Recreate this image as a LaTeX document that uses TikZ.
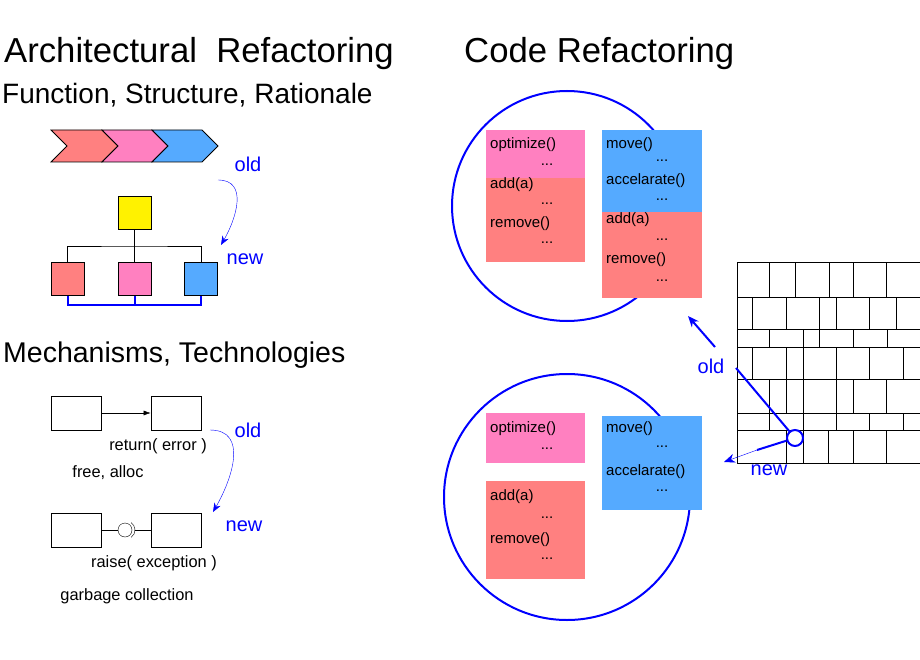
\documentclass[tikz,border=0pt]{standalone}
\usepackage{fontspec}
\setmainfont{Liberation Sans}
\usetikzlibrary{arrows.meta}
\definecolor{cred}{HTML}{FF8080}
\definecolor{cpink}{HTML}{FF80C0}
\definecolor{cblue}{HTML}{55AAFF}
\definecolor{bl}{HTML}{0000FF}
\begin{document}
\begin{tikzpicture}[x=1pt,y=-1pt,
  box/.style={draw,line width=0.8pt},
  t/.style={anchor=west,inner sep=0pt,font=\fontsize{15}{15}\selectfont},
  dots/.style={inner sep=0pt,font=\fontsize{15}{15}\selectfont},
  lab/.style={text=bl,inner sep=0pt,font=\fontsize{20}{20}\selectfont},
  sm/.style={inner sep=0pt,font=\fontsize{16.4}{16.4}\selectfont},
  barr/.style={draw=bl,-{Stealth[length=9pt,width=7pt]}}]
\useasboundingbox (0,0) rectangle (920,660);
% titles
\node[anchor=west,inner sep=0pt,font=\fontsize{34.7}{34.7}\selectfont] (t1) at (4,54) {Architectural\ \ Refactoring};
\node[anchor=west,inner sep=0pt,font=\fontsize{28}{28}\selectfont] (t2) at (2,95) {Function, Structure, Rationale};
\node[anchor=west,inner sep=0pt,font=\fontsize{28.5}{28.5}\selectfont] (t3) at (3,355) {Mechanisms, Technologies};
\node[anchor=west,inner sep=0pt,font=\fontsize{34.7}{34.7}\selectfont] (t4) at (464,54) {Code Refactoring};
% chevrons
\draw[box,fill=cred] (51,130)--(102,130)--(118,146)--(102,162)--(51,162)--(67,146)--cycle;
\draw[box,fill=cpink] (102,130)--(152,130)--(168,146)--(152,162)--(102,162)--(118,146)--cycle;
\draw[box,fill=cblue] (152,130)--(202,130)--(218,146)--(202,162)--(152,162)--(168,146)--cycle;
% tree
\node[box,fill=yellow,minimum size=33pt,inner sep=0pt] (y) at (134.5,213) {};
\node[box,fill=cred,minimum size=33pt,inner sep=0pt] (a1) at (67.5,279) {};
\node[box,fill=cpink,minimum size=33pt,inner sep=0pt] (a2) at (134.5,279) {};
\node[box,fill=cblue,minimum size=33pt,inner sep=0pt] (a3) at (201,279) {};
\draw (y.south)--(a2.north);
\draw (a1.north)|-(134.5,246)-|(a3.north);
\draw[draw=bl,line width=2pt] (a1.south)--(67.5,305)-|(a3.south);
\draw[draw=bl,line width=2pt] (a2.south)--(134.5,305);
\node[lab] (o1) at (248,164) {old};
\node[lab] (n1) at (245,259) {new};
\draw[barr] (218,180) to[out=0,in=60,looseness=1.2] (221,245);
% mechanisms
\node[box,minimum width=50pt,minimum height=34pt,inner sep=0pt] (m1) at (76,413) {};
\node[box,minimum width=50pt,minimum height=34pt,inner sep=0pt] (m2) at (176,413) {};
\draw[-{Latex[length=7pt,width=5pt]}] (m1)--(m2);
\node[sm] at (158,446) {return( error )};
\node[sm] at (108,473) {free, alloc};
\node[box,minimum width=50pt,minimum height=34pt,inner sep=0pt] (m3) at (76,530) {};
\node[box,minimum width=50pt,minimum height=34pt,inner sep=0pt] (m4) at (176,530) {};
\draw (m3.east)--(118,530);
\draw (125,530) circle (7);
\draw (126,530) ++(55:9) arc (55:-55:9);
\draw (135,530)--(m4.west);
\node[sm] at (154,563) {raise( exception )};
\node[sm] at (127,596) {garbage collection};
\node[lab] (o2) at (248,430) {old};
\node[lab] (n2) at (244,526) {new};
\draw[barr] (210,430) to[out=0,in=60,looseness=1.2] (213,512);
% code refactoring circles
\draw[draw=bl,line width=2pt] (567,206) circle (115);
\draw[draw=bl,line width=2pt] (567,497) circle (123);
% top boxes
\fill[cpink] (486,130) rectangle (585,178);
\fill[cred] (486,178) rectangle (585,262);
\fill[cblue] (602,130) rectangle (702,212);
\fill[cred] (602,212) rectangle (702,298);
\node[t] at (490,145) {optimize()}; \node[dots] at (547,165) {...};
\node[t] at (490,185) {add(a)}; \node[dots] at (547,204) {...};
\node[t] at (490,224) {remove()}; \node[dots] at (547,243) {...};
\node[t] at (606,145) {move()}; \node[dots] at (662,161) {...};
\node[t] at (606,181) {accelarate()}; \node[dots] at (662,200) {...};
\node[t] at (606,220) {add(a)}; \node[dots] at (662,240) {...};
\node[t] at (606,260) {remove()}; \node[dots] at (662,281) {...};
% bottom boxes
\fill[cpink] (486,413) rectangle (585,463);
\fill[cred] (486,481) rectangle (585,579);
\fill[cblue] (602,416) rectangle (702,510);
\node[t] at (490,429) {optimize()}; \node[dots] at (547,449) {...};
\node[t] at (490,497) {add(a)}; \node[dots] at (547,518) {...};
\node[t] at (490,540) {remove()}; \node[dots] at (547,559) {...};
\node[t] at (606,429) {move()}; \node[dots] at (662,447) {...};
\node[t] at (606,472) {accelarate()}; \node[dots] at (662,491) {...};
% wall
\begin{scope}[line width=0.8pt]
\draw (920,262)-|(737,463)--(920,463);
\foreach \y in {297,329,347,379,413,430} \draw (737,\y)--(920,\y);
\foreach \x in {769,795,829,853,886} \draw (\x,262)--(\x,297);
\foreach \x in {752,786,819,836,869,896} \draw (\x,297)--(\x,329);
\foreach \x in {769,803,819,853,887} \draw (\x,329)--(\x,347);
\foreach \x in {752,786,803,836,869,903} \draw (\x,347)--(\x,379);
\foreach \x in {769,786,803,836,853,886} \draw (\x,379)--(\x,413);
\foreach \x in {769,803,836,869,903} \draw (\x,413)--(\x,430);
\foreach \x in {786,803,828,853,886} \draw (\x,430)--(\x,463);
\end{scope}
\node[draw=bl,line width=2pt,circle,minimum size=16pt,inner sep=0pt] (c) at (795,438) {};
\coordinate (ls) at (736,368);
\draw[draw=bl,line width=2pt] (c)--(ls);
\node[lab] (o3) at (711,366) {old};
\node[lab] (n3) at (769,470) {new};
\draw[draw=bl,line width=2pt,-{Stealth[length=11pt,width=9pt]}] (715,347)--(688,316);
\draw[draw=bl,line width=2pt] (c)--(757,450);
\draw[draw=bl,-{Stealth[length=11pt,width=9pt]}] (757,450)--(724,462);
\end{tikzpicture}
\end{document}
